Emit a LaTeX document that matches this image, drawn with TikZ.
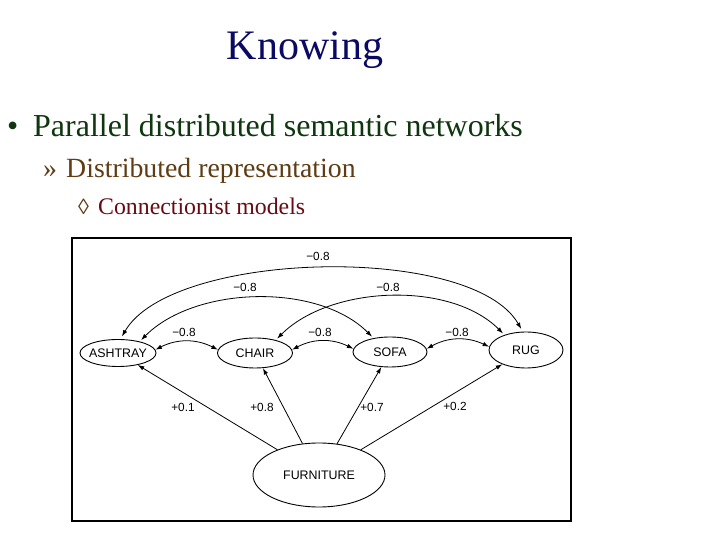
\documentclass[tikz,border=0pt]{standalone}
\usepackage{fontspec}
\setmainfont{Liberation Serif}
\newfontfamily\diag{Liberation Sans}
\usetikzlibrary{shapes.geometric,arrows.meta}
\definecolor{titleblue}{RGB}{10,10,100}
\definecolor{lvlone}{RGB}{15,55,15}
\definecolor{lvltwo}{RGB}{95,60,20}
\definecolor{lvlthree}{RGB}{105,10,20}
\begin{document}
\begin{tikzpicture}[x=1pt,y=1pt,
 ell/.style={draw, ellipse, inner sep=0pt, line width=0.9pt},
 nlab/.style={font=\diag\fontsize{12.4}{13}\selectfont, inner sep=0pt},
 wlab/.style={font=\diag\fontsize{11.8}{12}\selectfont, inner sep=0pt},
 link/.style={line width=0.8pt, {Latex[length=6.5pt,width=4.5pt]}-{Latex[length=6.5pt,width=4.5pt]}},
 feed/.style={line width=0.8pt, -{Latex[length=6.5pt,width=4.5pt]}},
 txt/.style={anchor=base west, inner sep=0pt},
]
\useasboundingbox (0,0) rectangle (720,540);
\fill[white] (0,0) rectangle (720,540);

% slide text
\node[anchor=base, inner sep=0pt, text=titleblue, font=\fontsize{42}{48}\selectfont] (title) at (305,480) {Knowing};
\node[txt, text=lvlone, font=\fontsize{32}{36}\selectfont] (b1dot) at (7,403) {•};
\node[txt, text=lvlone, font=\fontsize{32}{36}\selectfont] (b1) at (33,403) {Parallel distributed semantic networks};
\node[txt, text=lvltwo, font=\fontsize{27.8}{32}\selectfont] (b2dot) at (43,362) {»};
\node[txt, text=lvltwo, font=\fontsize{27.8}{32}\selectfont] (b2) at (66,362) {Distributed representation};
\node[txt, text=lvltwo, font=\fontsize{22}{26}\selectfont] (b3dot) at (78,325) {◊};
\node[txt, text=lvlthree, font=\fontsize{23.8}{28}\selectfont] (b3) at (98,325) {Connectionist models};

% figure frame
\draw[line width=1.2pt] (72,302) rectangle (571,19);

% nodes
\node[ell, minimum width=76pt, minimum height=27pt] (a) at (118,187) {};
\node[ell, minimum width=75pt, minimum height=30pt] (c) at (255,187) {};
\node[ell, minimum width=74pt, minimum height=30pt] (s) at (390,188) {};
\node[ell, minimum width=74pt, minimum height=36pt] (r) at (526,190) {};
\node[ell, minimum width=132pt, minimum height=64pt] (f) at (319,65) {};
\node[nlab] (at) at (a) {ASHTRAY};
\node[nlab] (ct) at (c) {CHAIR};
\node[nlab] (st) at (s) {SOFA};
\node[nlab] (rt) at (r) {RUG};
\node[nlab] (ft) at (f) {FURNITURE};

% inhibitory links
\draw[link] (a.5) to[bend left=27] (c.175);
\draw[link] (c.5) to[bend left=27] (s.175);
\draw[link] (s.5) to[bend left=27] (r.175);
\draw[link, shorten <=3pt, shorten >=3pt] (a.80) to[out=60,in=120,looseness=0.65] (r.100);
\draw[link, shorten <=2pt, shorten >=2pt] (a.28) to[out=45,in=135,looseness=0.86] (s.140);
\draw[link, shorten <=2pt, shorten >=2pt] (c.32) to[out=45,in=135,looseness=0.86] (r.145);

% excitatory links
\draw[feed] (f) -- (a);
\draw[feed] (f) -- (c);
\draw[feed] (f) -- (s);
\draw[feed] (f) -- (r);

% weights
\node[wlab] (w1) at (318,284) {−0.8};
\node[wlab] (w2) at (245,253) {−0.8};
\node[wlab] (w3) at (388,253) {−0.8};
\node[wlab] (w4) at (184,208) {−0.8};
\node[wlab] (w5) at (320,208) {−0.8};
\node[wlab] (w6) at (457,208) {−0.8};
\node[wlab] (w7) at (183,133) {+0.1};
\node[wlab] (w8) at (262,133) {+0.8};
\node[wlab] (w9) at (372,133) {+0.7};
\node[wlab] (w10) at (455,134) {+0.2};
\end{tikzpicture}
\end{document}
